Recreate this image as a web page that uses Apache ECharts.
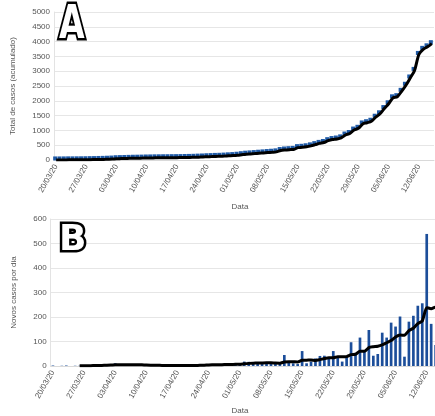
<!DOCTYPE html>
<html>
<head>
<meta charset="utf-8">
<script src="https://cdn.jsdelivr.net/npm/echarts@6/dist/echarts.min.js"></script>
<style>html,body{margin:0;padding:0;background:#fff}#c{width:435px;height:416px}</style>
</head>
<body>
<div id="c"></div>
<script>
var dates = [
 '20/03/20','21/03/20','22/03/20','23/03/20','24/03/20','25/03/20','26/03/20','27/03/20','28/03/20','29/03/20','30/03/20','31/03/20',
 '01/04/20','02/04/20','03/04/20','04/04/20','05/04/20','06/04/20','07/04/20','08/04/20','09/04/20','10/04/20','11/04/20','12/04/20','13/04/20','14/04/20','15/04/20','16/04/20','17/04/20','18/04/20','19/04/20','20/04/20','21/04/20','22/04/20','23/04/20','24/04/20','25/04/20','26/04/20','27/04/20','28/04/20','29/04/20','30/04/20',
 '01/05/20','02/05/20','03/05/20','04/05/20','05/05/20','06/05/20','07/05/20','08/05/20','09/05/20','10/05/20','11/05/20','12/05/20','13/05/20','14/05/20','15/05/20','16/05/20','17/05/20','18/05/20','19/05/20','20/05/20','21/05/20','22/05/20','23/05/20','24/05/20','25/05/20','26/05/20','27/05/20','28/05/20','29/05/20','30/05/20','31/05/20',
 '01/06/20','02/06/20','03/06/20','04/06/20','05/06/20','06/06/20','07/06/20','08/06/20','09/06/20','10/06/20','11/06/20','12/06/20','13/06/20','14/06/20','15/06/20'
];
var totalCases = [2,2,3,5,5,6,7, 9,12,14,18,21,26,32, 43,47,50,55,59,61,64, 68,70,73,74,76,77,79,
 80,82,85,87,91,97,102, 110,115,121,125,132,141,149, 161,179,196,206,217,229,240,
 252,262,275,320,338,349,357, 418,429,447,478,519,561,592, 653,691,709,747,844,896,1012,
 1071,1218,1260,1309,1445,1561,1738, 1899,2101,2139,2320,2525,2771,3027, 3566,3738,3824,3930];
var newCases = [2,0,1,2,0,1,1, 2,3,2,4,3,5,6, 11,4,3,5,4,2,3, 4,2,3,1,2,1,2,
 1,2,3,2,4,6,5, 8,5,6,4,7,9,8, 12,18,17,10,11,12,11, 12,10,13,45,18,11,8,
 61,11,18,31,41,42,31, 61,38,18,38,97,52,116, 59,147,42,49,136,116,177,
 161,202,38,181,205,246,256, 539,172,86,106];
var movingAvg = [null,null,null,null,null,null,
 1.0,1.0,1.4,1.6,1.9,2.3,2.9,3.6, 4.9,5.0,5.1,5.3,5.4,5.0,4.6, 3.6,3.3,3.3,2.7,2.4,2.3,2.1,
 1.7,1.7,1.7,1.9,2.1,2.9,3.3, 4.3,4.7,5.1,5.4,5.9,6.3,6.7, 7.3,9.1,10.7,11.6,12.1,12.6,13.0,
 13.0,11.9,11.3,16.3,17.3,17.1,16.7, 23.7,23.9,24.6,22.6,25.9,30.3,33.6,
 33.6,37.4,37.4,38.4,46.4,47.9,60.0, 59.7,75.3,78.7,80.3,85.9,95.0,103.7,
 118.3,126.1,125.6,144.4,154.3,172.9,184.1, 238.1,233.9,240.7,230];
var yTicksA = {min:0, max:5000, interval:500};
var yTicksB = {min:0, max:600, interval:100};

var chart = echarts.init(document.getElementById('c'), null, {renderer:'canvas'});
var FONT = 'Liberation Sans';
function xAx(idx){
  return {type:'category', gridIndex:idx, data:dates, boundaryGap:true,
    axisLine:{show:true, lineStyle:{color:'#d9d9d9'}}, axisTick:{show:false},
    axisLabel:{interval:6, rotate:60, fontSize:8, color:'#555', fontFamily:FONT, margin:5, hideOverlap:false},
    splitLine:{show:false}};
}
function yAx(idx, t, name, gap){
  return {type:'value', gridIndex:idx, min:t.min, max:t.max, interval:t.interval,
    name:name, nameLocation:'middle', nameGap:gap, nameRotate:90,
    nameTextStyle:{fontSize:8, color:'#555', fontFamily:FONT},
    axisLine:{show:true, lineStyle:{color:'#e3e3e3'}}, axisTick:{show:false},
    axisLabel:{fontSize:8, color:'#555', fontFamily:FONT, margin:4, formatter:function(v){return String(v);}},
    splitLine:{lineStyle:{color:'#e6e6e6', width:1}}};
}
chart.setOption({
  animation:false,
  backgroundColor:'#fff',
  grid:[
    {left:54, top:12, width:380, height:148, containLabel:false, outerBoundsMode:'none'},
    {left:50.7, top:219, width:391.6, height:147, containLabel:false, outerBoundsMode:'none'}
  ],
  xAxis:[xAx(0), xAx(1)],
  yAxis:[yAx(0, yTicksA, 'Total de casos (acumulado)', 37), yAx(1, yTicksB, 'Novos casos por dia', 33)],
  series:[
    {type:'line', xAxisIndex:0, yAxisIndex:0, data:totalCases, symbol:'rect', symbolSize:4,
     symbolOffset:[-1,-1.5], showAllSymbol:true,
     itemStyle:{color:'#1f5aa6'}, lineStyle:{color:'#1f5aa6', width:1}, z:2},
    {type:'line', xAxisIndex:0, yAxisIndex:0, data:totalCases, symbol:'none', smooth:0.3,
     lineStyle:{color:'#000', width:3}, z:3},
    {type:'bar', xAxisIndex:1, yAxisIndex:1, data:newCases, barWidth:'60%',
     itemStyle:{color:'#1c4e9a'}, z:2},
    {type:'line', xAxisIndex:1, yAxisIndex:1, data:movingAvg, symbol:'none', smooth:0.2,
     connectNulls:false, lineStyle:{color:'#000', width:3, join:'round'}, z:3}
  ],
  graphic:[
    {type:'text', x:59, y:26, scaleX:0.72, z:10,
     style:{text:'A', font:'bold 46px "DejaVu Sans"', fill:'#fff', stroke:'#000', lineWidth:5,
            textAlign:'left', verticalAlign:'middle'}},
    {type:'text', x:59, y:241, z:10,
     style:{text:'B', font:'bold 36px "DejaVu Sans"', fill:'#fff', stroke:'#000', lineWidth:5,
            textAlign:'left', verticalAlign:'middle'}},
    {type:'text', x:240, y:207, style:{text:'Data', font:'8px "Liberation Sans"', fill:'#555', textAlign:'center', verticalAlign:'middle'}},
    {type:'text', x:240, y:411, style:{text:'Data', font:'8px "Liberation Sans"', fill:'#555', textAlign:'center', verticalAlign:'middle'}}
  ]
});
</script>
</body>
</html>
